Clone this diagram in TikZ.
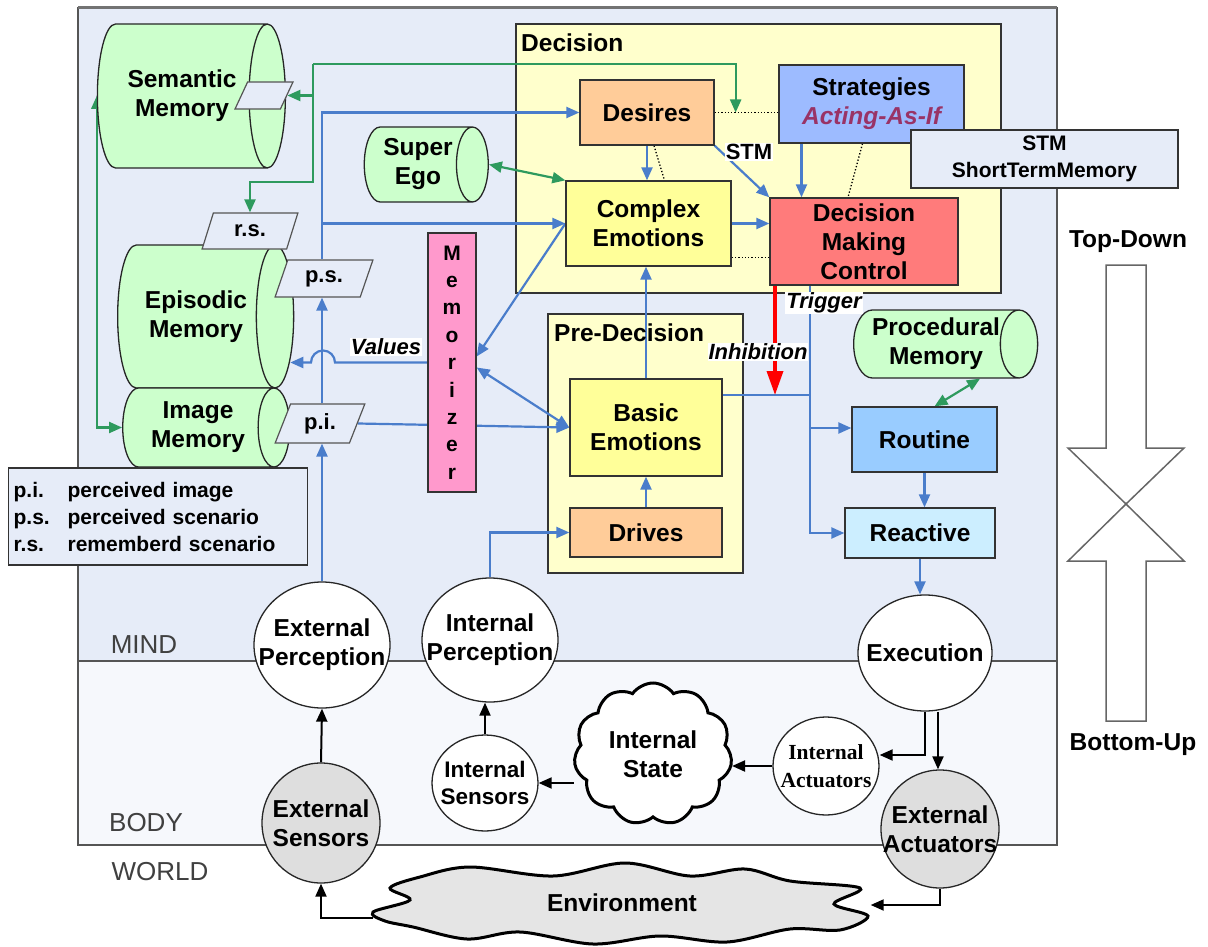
\documentclass[tikz,border=0pt]{standalone}
\usepackage{fontspec}
\setmainfont{Liberation Sans}
\newfontfamily\serifbox{Liberation Serif}
\usetikzlibrary{shapes.geometric,shapes.symbols,arrows.meta,calc}

\definecolor{mindbg}{HTML}{E6ECF8}
\definecolor{bodybg}{HTML}{F6F8FC}
\definecolor{stagebg}{HTML}{FFFFCC}
\definecolor{orangebox}{HTML}{FFCC99}
\definecolor{yellowbox}{HTML}{FFFF99}
\definecolor{bluebox}{HTML}{9DBBFF}
\definecolor{redbox}{HTML}{FF7B7B}
\definecolor{routinebox}{HTML}{99CCFF}
\definecolor{reactivebox}{HTML}{CCEEFF}
\definecolor{memgreen}{HTML}{CCFFCC}
\definecolor{pinkbox}{HTML}{FF99CC}
\definecolor{flowblue}{HTML}{4A7DCB}
\definecolor{flowgreen}{HTML}{2E9A5E}
\definecolor{asifpurple}{HTML}{993366}
\definecolor{framegray}{HTML}{555555}

\pgfdeclarelayer{bg}
\pgfdeclarelayer{wires}
\pgfsetlayers{bg,wires,main}

\tikzset{
  mainfont/.style={font=\bfseries\fontsize{24.5}{29}\selectfont},
  box/.style={draw=black!80, line width=1.3pt, align=center, inner sep=0pt, mainfont},
  stage/.style={draw=black!80, line width=1.3pt, fill=stagebg, inner sep=0pt},
  store/.style={cylinder, draw=black!85, line width=1.3pt, fill=memgreen, align=center, inner sep=0pt, mainfont},
  tag/.style={trapezium, trapezium left angle=68, trapezium right angle=112, trapezium stretches=true,
    draw=framegray, line width=1.2pt, fill=mindbg, inner sep=0pt, font=\bfseries\fontsize{22}{26}\selectfont},
  organ/.style={ellipse, draw=black!85, line width=1.3pt, fill=white, inner sep=0pt},
  ortext/.style={align=center, inner sep=0pt, mainfont},
  note/.style={fill=white, inner sep=1pt, font=\bfseries\itshape\fontsize{22}{26}\selectfont},
  regionlabel/.style={text=black!75, inner sep=0pt, font=\fontsize{26}{30}\selectfont},
  flow/.style={draw=flowblue, line width=2.2pt, >={Triangle[length=13pt,width=11pt]}, ->},
  flowline/.style={draw=flowblue, line width=2.2pt},
  gflow/.style={draw=flowgreen, line width=2.2pt, >={Triangle[length=13pt,width=11pt]}, ->},
  bodyflow/.style={draw=black, line width=2pt, >={Triangle[length=13pt,width=11pt]}, ->},
  inhibit/.style={draw=red, line width=3.5pt, >={Triangle[length=24pt,width=16pt]}, ->},
  dotlink/.style={draw=black, line width=1.3pt, dotted},
  updown/.style={draw=black!60, line width=1.5pt, fill=white}
}

\begin{document}
\begin{tikzpicture}[x=1pt,y=-1pt]
\useasboundingbox (0,0) rectangle (1208,947);

% mind / body frame and the two stages
\begin{pgfonlayer}{bg}
\fill[mindbg] (78,8) rectangle (1057,661);
\fill[bodybg] (78,661) rectangle (1057,845);
\draw[framegray, line width=1.4pt] (78,8) rectangle (1057,845);
\draw[framegray, line width=1.4pt] (78,661) -- (1057,661);
\draw[black!55, line width=3pt] (78,8) -- (1057,8);
\node[stage, minimum width=485pt, minimum height=269pt] (decision) at (758.5,158.5) {};
\node[stage, minimum width=195pt, minimum height=259pt] (predecision) at (645.5,443.5) {};
\end{pgfonlayer}

\node[regionlabel] (mind) at (144,645) {MIND};
\node[regionlabel] (body) at (146,823) {BODY};
\node[regionlabel] (world) at (160,872) {WORLD};
\node[mainfont, anchor=west, inner sep=0pt] (decisiontitle) at (521,43) {Decision};
\node[mainfont, anchor=west, inner sep=0pt] (predecisiontitle) at (554,333) {Pre-Decision};

% decision units
\node[box, fill=orangebox, minimum width=134pt, minimum height=65pt] (desires) at (647,112.5) {Desires};
\node[box, fill=bluebox, minimum width=185pt, minimum height=78pt] (strategies) at (871.5,104) {Strategies\\{\itshape\color{asifpurple}Acting-As-If}};
\node[box, fill=mindbg, minimum width=267pt, minimum height=58pt, font=\bfseries\fontsize{21}{27}\selectfont] (stmbox) at (1044.5,159) {STM\\ShortTermMemory};
\node[box, fill=yellowbox, minimum width=165pt, minimum height=85pt] (complex) at (648.5,223.5) {Complex\\Emotions};
\node[box, fill=redbox, minimum width=188pt, minimum height=87pt] (dmc) at (864,241.5) {Decision\\Making\\Control};
\node[box, fill=yellowbox, minimum width=152pt, minimum height=97pt] (basic) at (646,427.5) {Basic\\Emotions};
\node[box, fill=orangebox, minimum width=152pt, minimum height=49pt] (drives) at (646,532.5) {Drives};
\node[box, fill=routinebox, minimum width=145pt, minimum height=65pt] (routine) at (924.5,439.5) {Routine};
\node[box, fill=reactivebox, minimum width=150pt, minimum height=50pt] (reactive) at (920,533) {Reactive};
\node[box, fill=pinkbox, minimum width=48pt, minimum height=259pt, font=\bfseries\fontsize{21}{27.4}\selectfont] (memorizer) at (452,362.5) {M\\e\\m\\o\\r\\i\\z\\e\\r};

% memories (cylinder: minimum height runs along the axis)
\node[store, minimum height=188pt, minimum width=144pt, shape aspect=0.7] (semantic) at (182,96) {Semantic\\Memory};
\node[store, minimum height=176pt, minimum width=143pt, shape aspect=0.72] (episodic) at (196,316.5) {Episodic\\Memory};
\node[store, minimum height=167pt, minimum width=79pt, shape aspect=0.62] (image) at (198,427.5) {Image\\Memory};
\node[store, minimum height=124pt, minimum width=75pt, shape aspect=0.62, inner xsep=-8pt] (superego) at (418,164.5) {Super\\Ego};
\node[store, minimum height=184pt, minimum width=68pt, shape aspect=0.72, inner xsep=-10pt] (procedural) at (936,344) {Procedural\\Memory};

\node[tag, minimum width=58pt, minimum height=27pt] (semslot) at (264,95.5) {\phantom{x}};
\node[tag, minimum width=96pt, minimum height=36pt] (rscen) at (250,231) {r.s.};
\node[tag, minimum width=98pt, minimum height=37pt] (pscen) at (324,278.5) {p.s.};
\node[tag, minimum width=90pt, minimum height=39pt] (pimage) at (320,423.5) {p.i.};

\node[box, fill=mindbg, anchor=west, text width=289pt, align=left, inner xsep=5pt, minimum height=97pt,
  font=\bfseries\fontsize{21}{27}\selectfont] (legend) at (8,516.5)
  {\makebox[54pt][l]{p.i.}perceived image\\\makebox[54pt][l]{p.s.}perceived scenario\\\makebox[54pt][l]{r.s.}rememberd scenario};

% perception, execution, body
\node[organ, minimum width=136pt, minimum height=126pt, label={[ortext]center:External\\Perception}] (extper) at (322,645) {};
\node[organ, minimum width=136pt, minimum height=124pt, label={[ortext]center:Internal\\Perception}] (intper) at (490,640) {};
\node[organ, minimum width=134pt, minimum height=116pt, label={[ortext]center:Execution}] (execution) at (925,653) {};
\node[organ, fill=black!13, minimum width=118pt, minimum height=120pt, label={[ortext]center:External\\Sensors}] (extsens) at (321,823) {};
\node[organ, minimum width=106pt, minimum height=96pt,
  label={[ortext, font=\bfseries\fontsize{22.5}{27}\selectfont]center:Internal\\Sensors}] (intsens) at (485,783) {};
\node[organ, minimum width=106pt, minimum height=98pt,
  label={[ortext, font=\serifbox\bfseries\fontsize{21.5}{28}\selectfont]center:Internal\\Actuators}] (intact) at (826,766) {};
\node[organ, fill=black!13, minimum width=118pt, minimum height=118pt, label={[ortext]center:External\\Actuators}] (extact) at (940,829) {};
\node[cloud, draw, line width=3pt, fill=white, cloud puffs=11, cloud puff arc=110, minimum width=158pt, minimum height=142pt,
  inner sep=0pt, align=center, mainfont] (intstate) at (653,754) {Internal\\State};

% environment outline
\draw[line width=3pt, fill=black!10] plot[smooth cycle, tension=0.55] coordinates {
  (373,912) (410,900) (390,888) (420,877) (470,867) (553,876) (625,863) (690,876)
  (745,869) (790,881) (860,888) (834,904) (868,916) (840,930) (790,929) (727,942)
  (660,936) (593,944) (520,932) (467,939) (413,927) (385,921)};
\node[mainfont, minimum width=497pt, minimum height=75pt, inner sep=0pt] (env) at (622,903) {Environment};

% top-down / bottom-up
\node[mainfont, inner sep=0pt] (topdown) at (1128,242) {Top-Down};
\node[mainfont, inner sep=0pt] (bottomup) at (1133,745) {Bottom-Up};
\draw[updown] (1106,265) -- (1146,265) -- (1146,448) -- (1184,448) -- (1126,504) -- (1068,448) -- (1106,448) -- cycle;
\draw[updown] (1106,721) -- (1146,721) -- (1146,561) -- (1184,561) -- (1126,504) -- (1068,561) -- (1106,561) -- cycle;

% labels on the wires
\node[note] (valueslabel) at (386,347) {Values};
\node[note, font=\bfseries\fontsize{22}{26}\selectfont] (stmlabel) at (749,152) {STM};
\node[note] (triggerlabel) at (824,303) {Trigger};
\node[note] (inhiblabel) at (758,352) {Inhibition};

\begin{pgfonlayer}{wires}
\coordinate (gsplit) at (313,64);
\coordinate (stmtap) at ([xshift=21pt]desires.east);
\coordinate (stratfoot) at ([xshift=-70pt]strategies.south);
\coordinate (trigfoot) at ([xshift=-54pt]dmc.south);
\coordinate (inhibfoot) at ([xshift=-89pt]dmc.south);
\coordinate (basicout) at ([yshift=32.5pt]basic.east);
\coordinate (cxlow) at ([yshift=-34pt]complex.east);
\coordinate (exfoot) at ([xshift=13pt]execution.south);
\coordinate (envout) at ([yshift=-15pt]env.west);

% memory traffic
\draw[gflow] (gsplit) -| (stmtap);
\draw[gflow] (gsplit) |- (semslot.east);
\draw[gflow] (gsplit) |- ($(rscen.north)+(0,-30)$) -- (rscen.north);
\draw[gflow, <->] (semantic.west) -- (semantic.west |- image.west) -- (image.west);
\draw[gflow, <->] (superego.east) -- (complex.north west);
\draw[gflow, <->] ([xshift=44pt]procedural.south) -- ([xshift=10pt]routine.north);

\draw[flow] (extper.north) -- (extper.north |- pimage.south);
\draw[flow] (pimage.north -| extper.north) -- (pscen.south -| extper.north);
\draw[flow] (pscen.north -| extper.north) |- (desires.west);
\draw[flow] (complex.west -| extper.north) -- (complex.west);
\draw[flow] (pimage.east) -- (basic.west);
\draw[flow] (complex.west) -- ([yshift=6pt]memorizer.east);
\draw[flow, <->] ([yshift=-5pt]memorizer.east) -- (basic.west);
\draw[flow] (memorizer.west) -- ($(extper.north |- memorizer.west)+(13,0)$)
  arc[start angle=0, end angle=-180, radius=12] -- ($(episodic.east |- memorizer.west)+(-4,0)$);

% decision
\draw[dotlink] (desires.east) -- (desires.east -| strategies.west);
\draw[dotlink] ([xshift=7pt]desires.south) -- ([xshift=16pt]complex.north);
\draw[dotlink] ([xshift=-9pt]strategies.south) -- ([xshift=-16pt]dmc.north);
\draw[dotlink] (cxlow) -- (cxlow -| dmc.west);
\draw[flow] (desires.south) -- (desires.south |- complex.north);
\draw[flow] (desires.south east) -- (dmc.north west);
\draw[flow] (stratfoot) -- (stratfoot |- dmc.north);
\draw[flow] (complex.east) -- (complex.east -| dmc.west);
\draw[flow] (basic.north) -- (basic.north |- complex.south);
\draw[flow] (drives.north) -- (basic.south);
\draw[flow] (intper.north) |- (drives.west);

% trigger, inhibition, behaviour
\draw[flowline] (basicout) -- (basicout -| trigfoot);
\draw[flow] (trigfoot) |- ([yshift=11.5pt]routine.west);
\draw[flow] (trigfoot) |- (reactive.west);
\draw[inhibit] (inhibfoot) -- (inhibfoot |- basicout);
\draw[flow] (routine.south) -- (routine.south |- reactive.north);
\draw[flow] (reactive.south) -- (reactive.south |- execution.north);

% body
\draw[bodyflow] (extsens.north) -- (extper.south);
\draw[bodyflow] (intsens.north) -- (intsens.north |- intper.south);
\draw[bodyflow] (intstate.west |- intsens.east) -- (intsens.east);
\draw[bodyflow] (intact.west) -- (intact.west -| intstate.east);
\draw[bodyflow] (execution.south) |- ([yshift=11pt]intact.east);
\draw[bodyflow] (exfoot) -- (exfoot |- extact.north);
\draw[bodyflow] (extact.south) |- ([yshift=-2pt]env.east);
\draw[bodyflow] (envout) -| (extsens.south);
\end{pgfonlayer}
\end{tikzpicture}
\end{document}
